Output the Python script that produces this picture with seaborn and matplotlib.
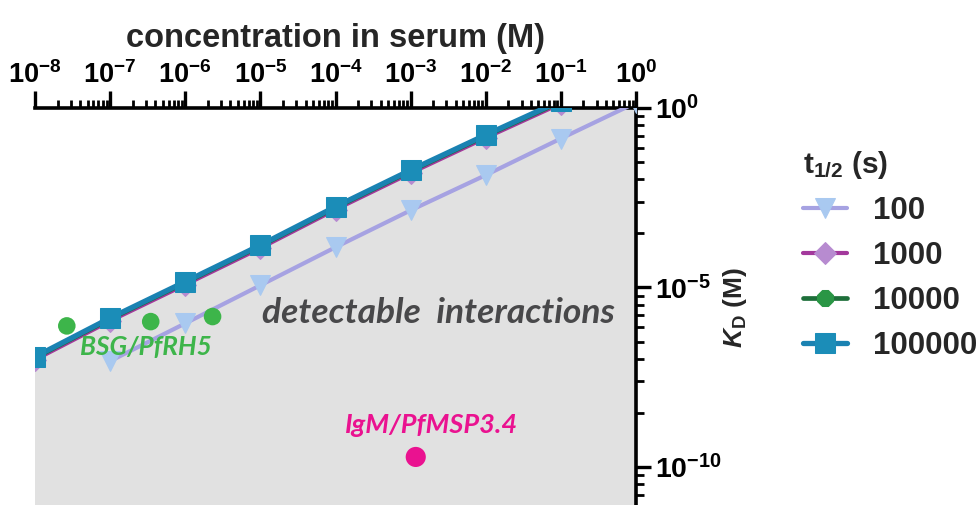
import numpy as np
import pandas as pd
import seaborn as sns
import matplotlib
matplotlib.use("Agg")
import matplotlib.pyplot as plt
from matplotlib.ticker import FixedLocator, LogLocator, NullFormatter, FuncFormatter

# ---------------- data ----------------
conc_long = [1e-8, 1e-7, 1e-6, 1e-5, 1e-4, 1e-3, 1e-2, 1e-1, 1e0]
conc_short = [1e-7, 1e-6, 1e-5, 1e-4, 1e-3, 1e-2, 1e-1, 1e0]

kd_100 = [8.9e-8, 1.0e-6, 1.15e-5, 1.32e-4, 1.41e-3, 1.35e-2, 0.141, 1.41]
kd_1000 = [9.7e-8, 1.17e-6, 1.2e-5, 1.25e-4, 1.48e-3, 1.54e-2, 0.148, 1.33, 13.0]
kd_10000 = [1.1e-7, 1.33e-6, 1.37e-5, 1.43e-4, 1.68e-3, 1.76e-2, 0.168, 1.5, 15.0]
kd_100000 = [1.17e-7, 1.41e-6, 1.45e-5, 1.51e-4, 1.78e-3, 1.86e-2, 0.178, 1.6, 16.0]

half_lives = ["100", "1000", "10000", "100000"]

bsg_conc = [2.65e-8, 3.47e-7, 2.31e-6]
bsg_kd = [8.5e-7, 1.12e-6, 1.55e-6]
igm_conc = [1.17e-3]
igm_kd = [1.9e-10]

# ---------------- styling ----------------
sns.set_theme(style="white")
plt.rcParams["font.family"] = ["Liberation Sans", "DejaVu Sans"]
plt.rcParams["font.weight"] = "bold"
plt.rcParams["mathtext.fontset"] = "custom"
plt.rcParams["mathtext.rm"] = "Liberation Sans:bold"
plt.rcParams["mathtext.bf"] = "Liberation Sans:bold"
plt.rcParams["mathtext.it"] = "Liberation Sans:italic:bold"

fig = plt.figure(figsize=(9.79, 5.05), dpi=100)
ax = fig.add_axes([35 / 979, 0.0, 601 / 979, 397 / 505])
ax.set_facecolor("white")

# detectable region (below the longest half-life curve)
ax.fill_between(conc_long, kd_100000, 1e-13, color="#e1e1e1", lw=0, zorder=0)

series = [
    (half_lives[0], conc_short, kd_100, "#a6a2e2", "v", "#a9c9f0", 3.0, 14),
    (half_lives[1], conc_long, kd_1000, "#a3389c", "D", "#b78bd0", 3.0, 11),
    (half_lives[2], conc_long, kd_10000, "#1e6f3a", "8", "#2a9645", 3.4, 12),
    (half_lives[3], conc_long, kd_100000, "#1a82b2", "s", "#1b8db8", 3.8, 14),
]
for lab, xs, ys, lc, mk, fc, lw, ms in series:
    df = pd.DataFrame({"conc": xs, "kd": ys})
    sns.lineplot(data=df, x="conc", y="kd", ax=ax, color=lc, lw=lw,
                 marker=mk, markersize=ms, markerfacecolor=fc,
                 markeredgecolor=fc, label=lab, zorder=3, clip_on=True)

sns.scatterplot(x=bsg_conc, y=bsg_kd, ax=ax, color="#3db54a", s=160,
                edgecolor="none", zorder=4, legend=False)
sns.scatterplot(x=igm_conc, y=igm_kd, ax=ax, color="#ea1290", s=210,
                edgecolor="none", zorder=4, legend=False)

ann_font = ["Lato", "DejaVu Sans"]
ax.text(2.37e-3, 1.0e-6, "detectable  interactions", color="#48484a",
        fontsize=25.5, fontstyle="italic", fontweight="bold", family=ann_font,
        ha="center", va="baseline", zorder=5)
ax.text(2.97e-7, 1.32e-7, "BSG/PfRH5", color="#3db54a", fontsize=18.8,
        fontstyle="italic", fontweight="bold", family=ann_font,
        ha="center", va="baseline", zorder=5)
ax.text(1.92e-3, 8.9e-10, "IgM/PfMSP3.4", color="#ea1290", fontsize=19.5,
        fontstyle="italic", fontweight="bold", family=ann_font,
        ha="center", va="baseline", zorder=5)

# ---------------- axes ----------------
ax.set_xscale("log")
ax.set_yscale("log")
ax.set_xlim(1e-8, 1)
ax.set_ylim(10 ** -11.06, 1)

for side in ["left", "bottom"]:
    ax.spines[side].set_visible(False)
for side in ["top", "right"]:
    ax.spines[side].set_visible(True)
    ax.spines[side].set_linewidth(2.6)
    ax.spines[side].set_color("black")

pow_fmt = FuncFormatter(lambda v, p: r"$\mathdefault{10^{%d}}$" % int(round(np.log10(v))))

ax.xaxis.tick_top()
ax.xaxis.set_label_position("top")
ax.xaxis.set_major_locator(LogLocator(base=10, numticks=20))
ax.xaxis.set_minor_locator(LogLocator(base=10, subs=np.arange(2, 10), numticks=200))
ax.xaxis.set_minor_formatter(NullFormatter())
ax.xaxis.set_major_formatter(pow_fmt)

ax.yaxis.tick_right()
ax.yaxis.set_label_position("right")
ax.yaxis.set_major_locator(FixedLocator([1e-10, 1e-5, 1.0]))
y_minor = [k ** 5 * 10.0 ** e for e in (-15, -10, -5) for k in range(2, 10)]
ax.yaxis.set_minor_locator(FixedLocator(y_minor))
ax.yaxis.set_minor_formatter(NullFormatter())
ax.yaxis.set_major_formatter(pow_fmt)

ax.tick_params(axis="x", which="major", top=True, bottom=False, labeltop=True,
               labelbottom=False, direction="out", length=12, width=2.4,
               pad=2, labelsize=19.5, colors="black")
ax.tick_params(axis="x", which="minor", top=True, bottom=False,
               direction="out", length=6, width=2.0, colors="black")
ax.tick_params(axis="y", which="major", right=True, left=False, labelright=True,
               labelleft=False, direction="out", length=11, width=2.4,
               pad=3, labelsize=20.5, colors="black")
ax.tick_params(axis="y", which="minor", right=True, left=False,
               direction="out", length=6, width=2.0, colors="black")
for t in ax.get_xticklabels() + ax.get_yticklabels():
    t.set_fontweight("bold")

ax.set_xlabel("concentration in serum (M)", fontsize=23.5, fontweight="bold")
ax.xaxis.set_label_coords((336 - 35) / 601, (505 - 47) / 397)
ax.set_ylabel(r"$K_{\mathrm{D}}$ (M)", fontsize=19, fontweight="bold",
              rotation=90)
ax.yaxis.set_label_coords((735 - 35) / 601, (505 - 308) / 397)
ax.yaxis.label.set_verticalalignment("center")
ax.yaxis.label.set_horizontalalignment("center")

leg = ax.legend(title=r"t$_{1/2}$ (s)", loc="upper left",
                bbox_to_anchor=(803 / 979, 1 - 149 / 505),
                bbox_transform=fig.transFigure, frameon=False,
                fontsize=22.5, title_fontsize=21.5, handlelength=1.4,
                handletextpad=0.85, labelspacing=0.48, borderpad=0,
                borderaxespad=0, alignment="left")
for txt in leg.get_texts():
    txt.set_fontweight("bold")
leg.get_title().set_fontweight("bold")

fig.savefig("out.png", dpi=100)
